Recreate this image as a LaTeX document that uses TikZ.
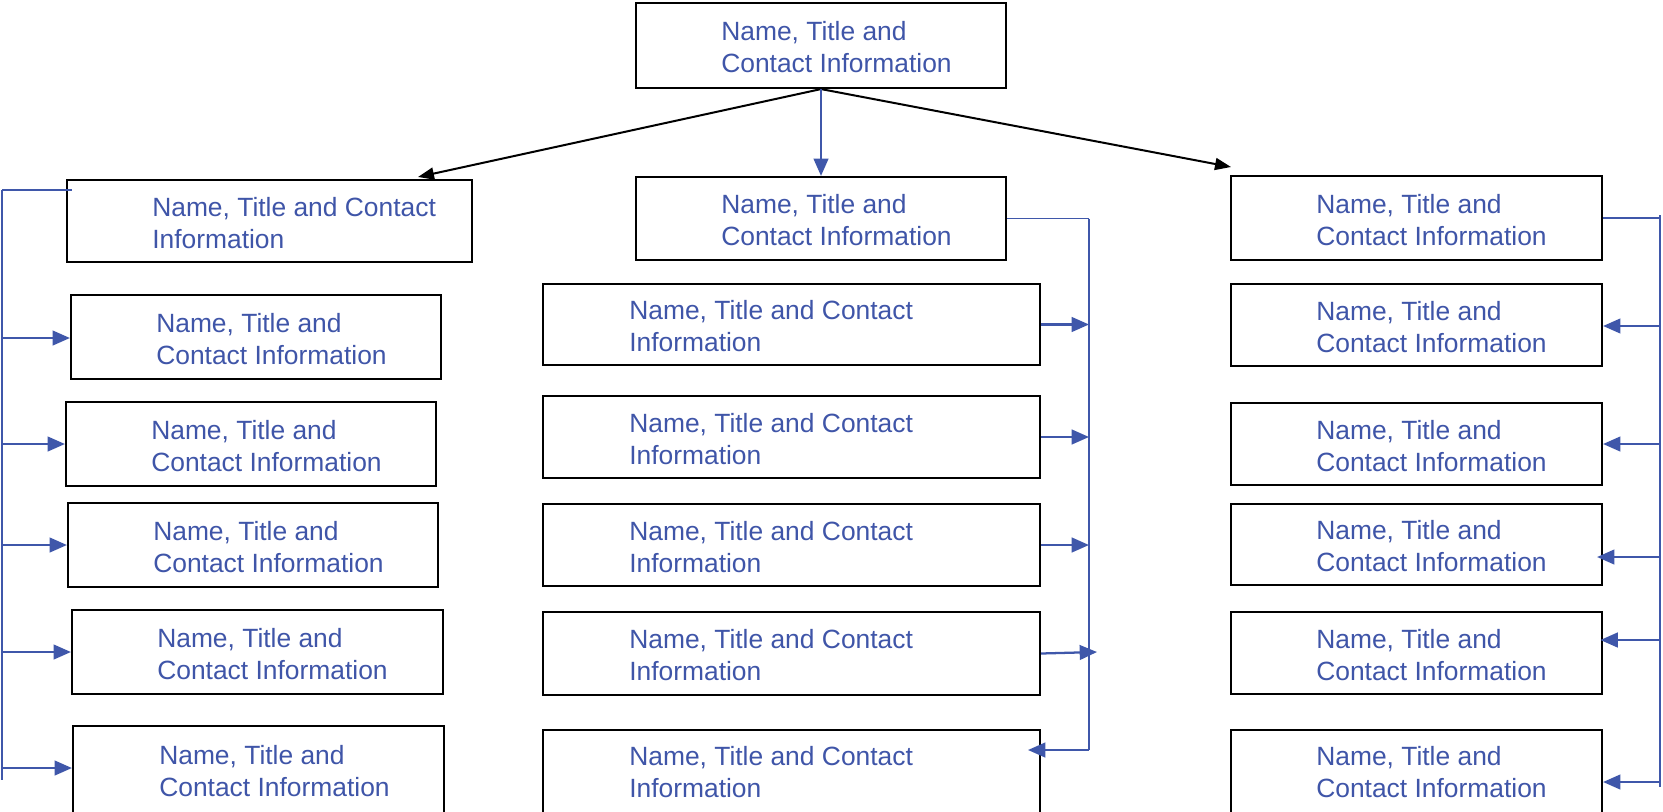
\documentclass[tikz,border=0pt]{standalone}
\usepackage{fontspec}
\setmainfont{Liberation Sans}
\usetikzlibrary{arrows.meta,fit}
\definecolor{txtblue}{HTML}{3F55A8}
\definecolor{lnblue}{HTML}{3F57AA}
\begin{document}
\begin{tikzpicture}[x=0.75pt,y=-0.75pt,
  box/.style={draw=black,line width=1.6pt,inner sep=0pt,fill=none},
  txt/.style={anchor=west,inner sep=0pt,align=left,text=txtblue,font=\fontsize{19.8pt}{24pt}\selectfont},
  blink/.style={draw=lnblue,line width=1.7pt},
  thinlink/.style={draw=lnblue,line width=1pt},
  barrow/.style={blink,-{Triangle[length=13pt,width=11pt]}},
  karrow/.style={draw=black,line width=1.5pt,-{Triangle[length=12pt,width=9pt]}}]
\useasboundingbox (0,0) rectangle (1663,811);
% boxes
\node[box,fit={(636,3) (1006,88)}] (top) {};
\node[box,fit={(67,180) (472,262)}] (l0) {};
\node[box,fit={(71,295) (441,379)}] (l1) {};
\node[box,fit={(66,402) (436,486)}] (l2) {};
\node[box,fit={(68,503) (438,587)}] (l3) {};
\node[box,fit={(72,610) (443,694)}] (l4) {};
\node[box,fit={(73,726) (444,830)}] (l5) {};
\node[box,fit={(636,177) (1006,260)}] (m0) {};
\node[box,fit={(543,284) (1040,365)}] (m1) {};
\node[box,fit={(543,396) (1040,478)}] (m2) {};
\node[box,fit={(543,504) (1040,586)}] (m3) {};
\node[box,fit={(543,612) (1040,695)}] (m4) {};
\node[box,fit={(543,730) (1040,830)}] (m5) {};
\node[box,fit={(1231,176) (1602,260)}] (r0) {};
\node[box,fit={(1231,284) (1602,366)}] (r1) {};
\node[box,fit={(1231,403) (1602,485)}] (r2) {};
\node[box,fit={(1231,504) (1602,585)}] (r3) {};
\node[box,fit={(1231,612) (1602,694)}] (r4) {};
\node[box,fit={(1231,730) (1602,830)}] (r5) {};
% texts
\node[txt] (topt) at (721,47.5) {Name, Title and\\Contact Information};
\node[txt] (l0t) at (152,223) {Name, Title and Contact\\Information};
\node[txt] (l1t) at (156,339) {Name, Title and\\Contact Information};
\node[txt] (l2t) at (151,446) {Name, Title and\\Contact Information};
\node[txt] (l3t) at (153,547) {Name, Title and\\Contact Information};
\node[txt] (l4t) at (157,654) {Name, Title and\\Contact Information};
\node[txt] (l5t) at (159,771) {Name, Title and\\Contact Information};
\node[txt] (m0t) at (721,220.5) {Name, Title and\\Contact Information};
\node[txt] (m1t) at (629,326.5) {Name, Title and Contact\\Information};
\node[txt] (m2t) at (629,439) {Name, Title and Contact\\Information};
\node[txt] (m3t) at (629,547) {Name, Title and Contact\\Information};
\node[txt] (m4t) at (629,655.5) {Name, Title and Contact\\Information};
\node[txt] (m5t) at (629,772) {Name, Title and Contact\\Information};
\node[txt] (r0t) at (1316,220) {Name, Title and\\Contact Information};
\node[txt] (r1t) at (1316,327) {Name, Title and\\Contact Information};
\node[txt] (r2t) at (1316,446) {Name, Title and\\Contact Information};
\node[txt] (r3t) at (1316,546.5) {Name, Title and\\Contact Information};
\node[txt] (r4t) at (1316,655) {Name, Title and\\Contact Information};
\node[txt] (r5t) at (1316,772) {Name, Title and\\Contact Information};
% top connectors
\coordinate (tl) at (418,177);
\coordinate (tr) at (1231,167);
\draw[karrow] (top.south) -- (tl);
\draw[karrow] (top.south) -- (tr);
\draw[barrow] (top.south) -- (m0.north);
% left bracket
\coordinate (lvtop) at (2,190);
\coordinate (lvbot) at (2,780);
\coordinate (lh) at (72,190);
\draw[thinlink] (lvtop) -- (lh);
\draw[blink] (lvtop) -- (lvbot);
\coordinate (lv1) at (2,338);
\coordinate (lv2) at (2,444);
\coordinate (lv3) at (2,545);
\coordinate (lv4) at (2,652);
\coordinate (lv5) at (2,768);
\draw[barrow] (lv1) -- (lv1 -| l1.west);
\draw[barrow] (lv2) -- (lv2 -| l2.west);
\draw[barrow] (lv3) -- (lv3 -| l3.west);
\draw[barrow] (lv4) -- (lv4 -| l4.west);
\draw[barrow] (lv5) -- (lv5 -| l5.west);
% middle bracket
\coordinate (mvtop) at (1089,218.5);
\coordinate (mvbot) at (1089,750);
\draw[thinlink] (m0.east) -- (mvtop);
\draw[blink] (mvtop) -- (mvbot);
\coordinate (mv1) at (1089,324.5);
\coordinate (mv2) at (1089,437);
\coordinate (mv3) at (1089,545);
\coordinate (mv4) at (1097,652);
\coordinate (mv5) at (1028,750);
\draw[barrow] (m1.east) -- (mv1);
\draw[barrow] (m2.east) -- (mv2);
\draw[barrow] (m3.east) -- (mv3);
\draw[barrow] (m4.east) -- (mv4);
\draw[barrow] (mvbot) -- (mv5);
% right bracket
\coordinate (rvtop) at (1660,215);
\coordinate (rvbot) at (1660,787);
\draw[thinlink] (r0.east) -- (r0.east -| rvtop);
\draw[blink] (rvtop) -- (rvbot);
\coordinate (rv1) at (1660,326);
\coordinate (rv2) at (1660,444);
\coordinate (rv3) at (1660,557);
\coordinate (rv4) at (1660,640);
\coordinate (rv5) at (1660,782);
\draw[barrow] (rv1) -- (rv1 -| r1.east);
\draw[barrow] (rv2) -- (rv2 -| r2.east);
\draw[barrow] (rv3) -- ([xshift=-4.5pt]rv3 -| r3.east);
\draw[barrow] (rv4) -- ([xshift=-2pt]rv4 -| r4.east);
\draw[barrow] (rv5) -- (rv5 -| r5.east);
\end{tikzpicture}
\end{document}
